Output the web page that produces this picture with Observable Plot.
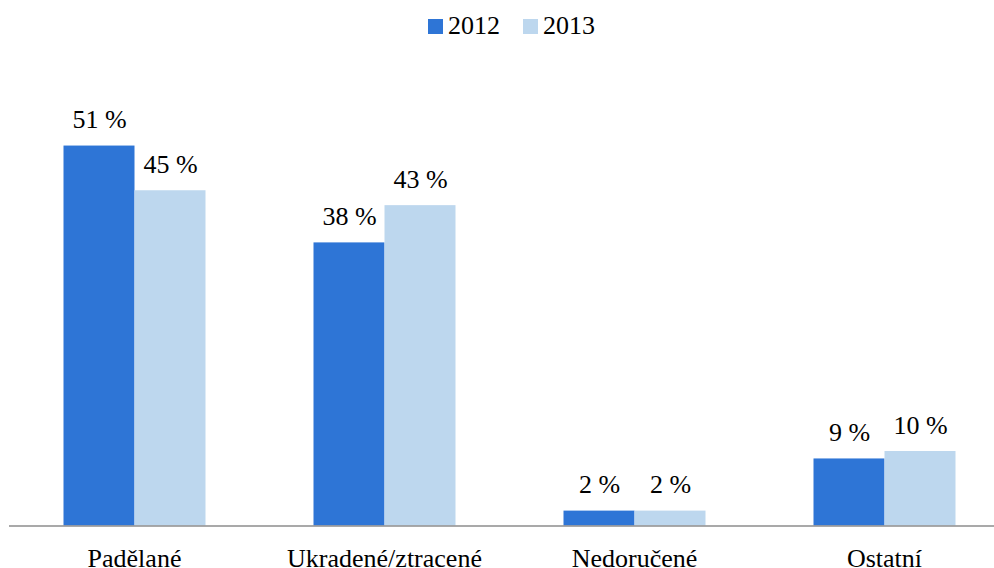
<!DOCTYPE html>
<html>
<head>
<meta charset="utf-8">
<script src="https://cdn.jsdelivr.net/npm/d3@7"></script>
<script src="https://cdn.jsdelivr.net/npm/@observablehq/plot@0.6"></script>
</head>
<body style="margin:0;padding:0;background:#fff;overflow:hidden;font-family:'Liberation Serif'">
<div id="legend" style="position:relative;height:50px"></div>
<div id="chart"></div>
<script>
const categories = ["Padělané", "Ukradené/ztracené", "Nedoručené", "Ostatní"];
const years = ["2012", "2013"];
const values2012 = [51, 38, 2, 9];
const values2013 = [45, 43, 2, 10];
const colors = ["#2E75D6", "#BDD7EE"];

const data = [];
categories.forEach((c, i) => {
  data.push({category: c, year: years[0], value: values2012[i]});
  data.push({category: c, year: years[1], value: values2013[i]});
});

// legend
const legend = document.getElementById("legend");
const legendX = [428, 523];
years.forEach((y, i) => {
  const item = document.createElement("div");
  item.setAttribute("style", "position:absolute;top:9px;left:" + legendX[i] + "px;display:flex;align-items:center;font-size:26px;line-height:34px;color:#000;font-family:'Liberation Serif'");
  const sw = document.createElement("div");
  sw.setAttribute("style", "width:15px;height:15px;margin-right:5px;background:" + colors[i]);
  item.appendChild(sw);
  const t = document.createElement("span");
  t.textContent = y;
  item.appendChild(t);
  legend.appendChild(item);
});

const chart = Plot.plot({
  width: 1009,
  height: 518,
  marginLeft: 8.5,
  marginRight: 0,
  marginTop: 28.5,
  marginBottom: 42.5,
  style: {fontFamily: "Liberation Serif", fontSize: "26px", color: "#000", background: "#fff", maxWidth: "none", overflow: "visible"},
  fx: {domain: categories, padding: 0, label: null, axis: "bottom", tickSize: 0, tickPadding: 23},
  x: {domain: years, paddingInner: 0, paddingOuter: 0.748, axis: null},
  y: {domain: [0, 60], axis: null},
  color: {domain: years, range: colors},
  marks: [
    Plot.barY(data, {fx: "category", x: "year", y: "value", fill: "year", inset: 0}),
    Plot.text(data, {fx: "category", x: "year", y: "value", text: d => d.value + " %", lineAnchor: "bottom", dy: -18, fontSize: 26, fontFamily: "Liberation Serif", fill: "#000"}),
    Plot.ruleY([0], {stroke: "#8c8c8c", strokeWidth: 1.3})
  ]
});
document.getElementById("chart").appendChild(chart);
</script>
</body>
</html>
